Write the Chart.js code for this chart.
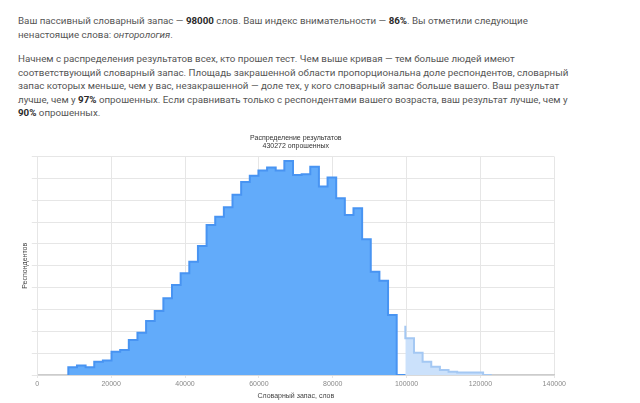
<!DOCTYPE html>
<html>
<head>
<meta charset="utf-8">
<script src="https://cdn.jsdelivr.net/npm/chart.js@4/dist/chart.umd.min.js"></script>
<style>
  html, body { margin: 0; padding: 0; background: #ffffff; }
  body { width: 640px; height: 403px; position: relative; overflow: hidden; font-family: Roboto, "Liberation Sans", Arial, sans-serif; }
  .ln { position: absolute; left: 18px; font-size: 9.75px; line-height: 13.5px; color: #555555; white-space: nowrap; }
  .ln b { color: #2a2a2a; font-weight: 700; }
  #wrap { position: absolute; left: 0; top: 125px; width: 640px; height: 278px; }
</style>
</head>
<body>
<div class="ln" style="top:14px">Ваш пассивный словарный запас — <b>98000</b> слов. Ваш индекс внимательности — <b>86%</b>. Вы отметили следующие</div>
<div class="ln" style="top:28px">ненастоящие слова: <i>онторология</i>.</div>
<div class="ln" style="top:52px">Начнем с распределения результатов всех, кто прошел тест. Чем выше кривая — тем больше людей имеют</div>
<div class="ln" style="top:65.5px">соответствующий словарный запас. Площадь закрашенной области пропорциональна доле респондентов, словарный</div>
<div class="ln" style="top:79px">запас которых меньше, чем у вас, незакрашенной — доле тех, у кого словарный запас больше вашего. Ваш результат</div>
<div class="ln" style="top:92.5px">лучше, чем у <b>97%</b> опрошенных. Если сравнивать только с респондентами вашего возраста, ваш результат лучше, чем у</div>
<div class="ln" style="top:106px"><b>90%</b> опрошенных.</div>
<div id="wrap"><canvas id="c"></canvas></div>
<script>
// Bin edges (vocabulary size, words)
const binEdges = [8400, 10740, 13080, 15420, 17760, 20100, 22440, 24780, 27120, 29460,
  31800, 34140, 36480, 38820, 41160, 43500, 45840, 48180, 50520, 52860,
  55200, 57540, 59880, 62220, 64560, 66900, 69240, 71580, 73920, 76260,
  78600, 80940, 83280, 85620, 87960, 90300, 92640, 94980, 97320, 99660,
  102000, 104340, 106680, 109020, 111360, 113700, 116040, 118380, 120720, 123060];
// Respondents per bin, below your score (shaded)
const belowCounts = [620, 700, 860, 700, 1220, 1320, 2140, 2300, 3200, 3880,
  4940, 5860, 7020, 8240, 9320, 10380, 11820, 13740, 14500, 15360,
  16500, 17680, 18240, 18720, 19000, 18720, 19600, 18320, 18380, 19080,
  17260, 18080, 16180, 14660, 15280, 12440, 9460, 8620, 5500];
// Respondents per bin, above your score (unshaded)
const aboveCounts = [4520, 3360, 2040, 1220, 760, 460, 300, 220, 240, 220];
const xTicks = [0, 20000, 40000, 60000, 80000, 100000, 120000, 140000];
const titleLines = ['Распределение результатов', '430272 опрошенных'];

const belowPts = [{x: binEdges[0], y: 0}];
belowCounts.forEach((v, i) => belowPts.push({x: binEdges[i], y: v}));
belowPts.push({x: binEdges[belowCounts.length], y: 0});
const off = belowCounts.length;
const abovePts = [];
aboveCounts.forEach((v, i) => abovePts.push({x: binEdges[off + i], y: v}));
abovePts.push({x: binEdges[off + aboveCounts.length], y: 0});

const FONT = '"Liberation Sans", Arial, sans-serif';
new Chart(document.getElementById('c'), {
  type: 'line',
  data: {
    datasets: [
      { data: belowPts, stepped: 'after', fill: 'origin', backgroundColor: '#62abfa', borderColor: '#4894f2', borderWidth: 2, pointRadius: 0, order: 1 },
      { data: abovePts, stepped: 'after', fill: 'origin', backgroundColor: '#cbe1fb', borderColor: '#a4c8f3', borderWidth: 2, pointRadius: 0, order: 2 }
    ]
  },
  options: {
    responsive: true, maintainAspectRatio: false, animation: false,
    layout: { padding: { left: 0, right: 85.7, top: 0, bottom: 0 } },
    plugins: {
      legend: { display: false }, tooltip: { enabled: false },
      title: { display: true, text: titleLines, fullSize: false, color: '#333333',
        font: { family: FONT, size: 7, lineHeight: 1.05, weight: 'normal' }, padding: { top: 9.6, bottom: 7.3 } }
    },
    scales: {
      x: {
        type: 'linear', min: 0, max: 140000,
        afterBuildTicks: (s) => { s.ticks = xTicks.map(v => ({value: v})); },
        afterFit: (s) => { s.height = 28; },
        grid: { color: '#e6e6e6', tickLength: 3 },
        border: { color: '#cccccc', width: 1.5 },
        ticks: { color: '#8a8a8a', font: { family: FONT, size: 7 }, padding: 2, maxRotation: 0, autoSkip: false,
          callback: (v) => String(v) },
        title: { display: true, text: 'Словарный запас, слов', color: '#444444', font: { family: FONT, size: 7 }, padding: { top: 0, bottom: 2.8 } }
      },
      y: {
        min: 0, max: 20000,
        afterFit: (s) => { s.width = 37.3; },
        grid: { color: '#e6e6e6', tickLength: 5.5 },
        border: { color: '#e6e6e6' },
        ticks: { display: false, stepSize: 2000 },
        title: { display: true, text: 'Респондентов', color: '#444444', font: { family: FONT, size: 7 }, padding: { top: 20.8, bottom: 0 } }
      }
    }
  }
});
</script>
</body>
</html>
